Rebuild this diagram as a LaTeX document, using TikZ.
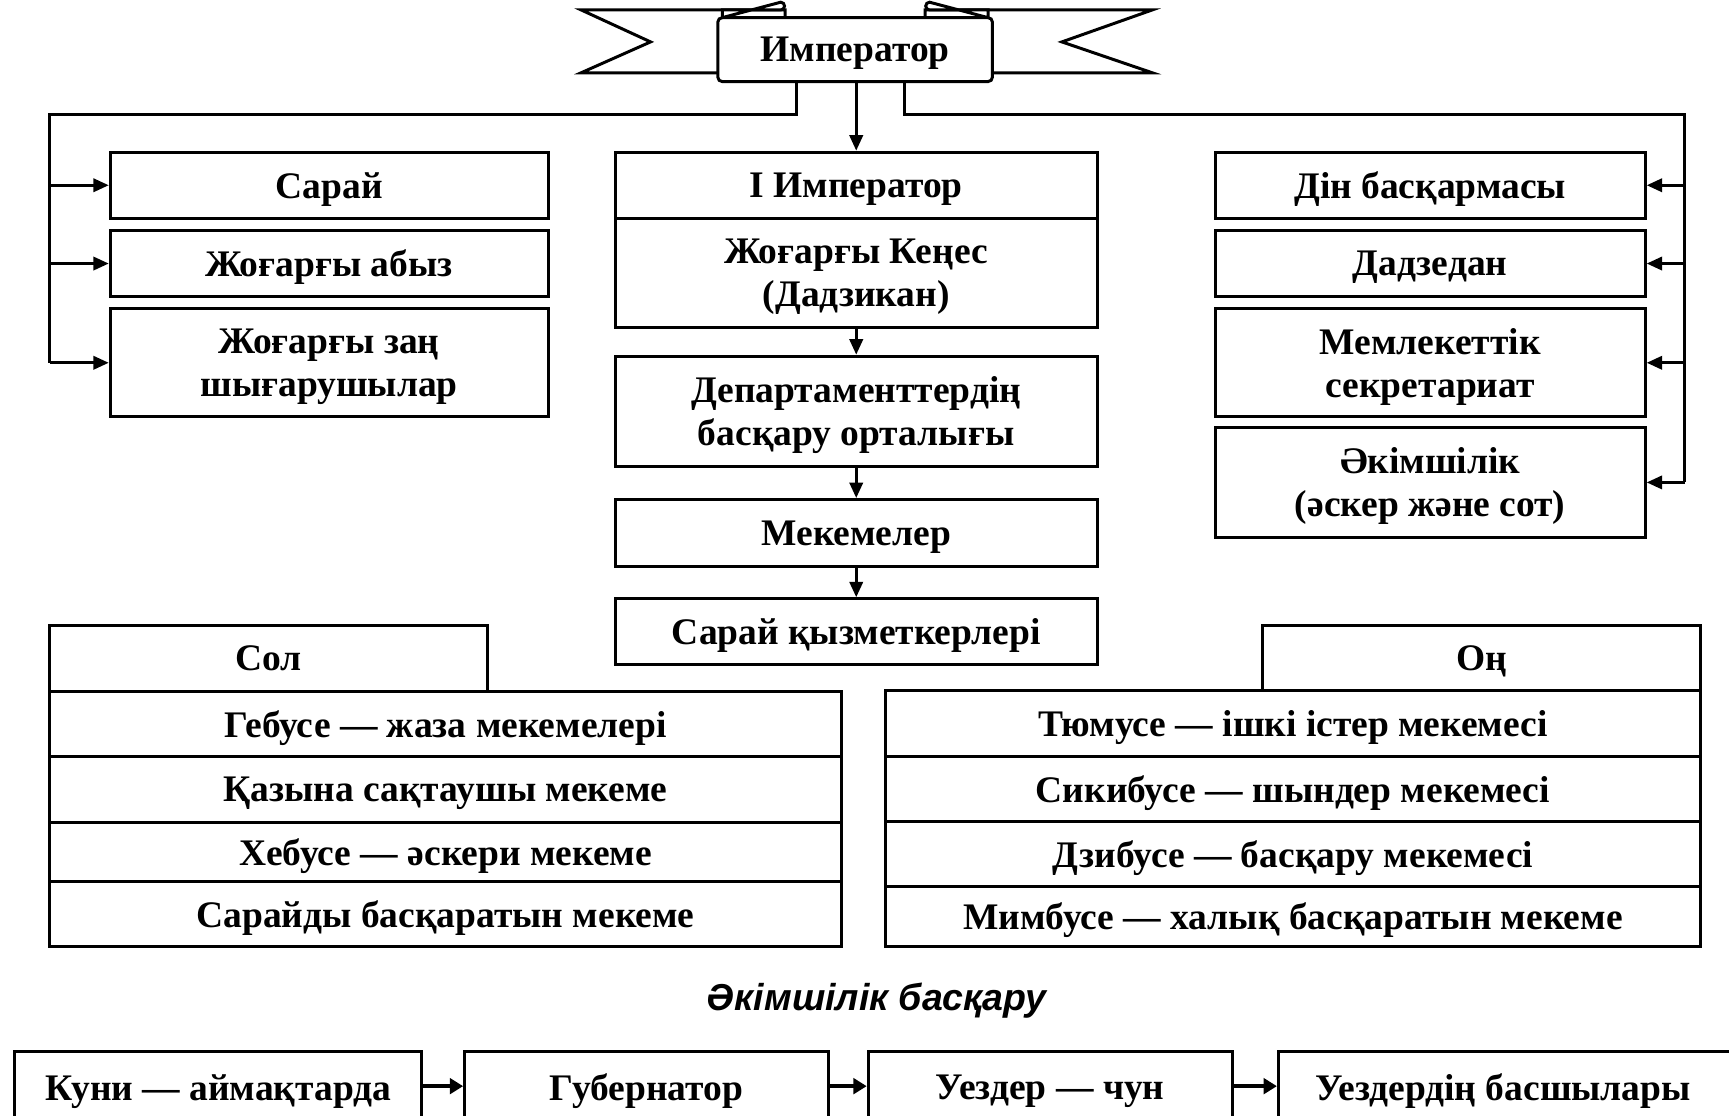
\documentclass[tikz,border=0pt]{standalone}
\usepackage{fontspec}
\setmainfont{Liberation Serif}
\setsansfont{Liberation Sans}
\usetikzlibrary{arrows.meta,calc}
\begin{document}
\begin{tikzpicture}[x=1pt,y=-1pt,
  lw/.style={line width=2.7pt},
  box/.style={draw, lw, fill=white, inner sep=0pt, align=center, text depth=0pt,
    font=\fontsize{34}{39}\selectfont\bfseries},
  wh/.style 2 args={minimum width=#1pt, minimum height=#2pt},
  arr/.style={lw, -{Triangle[length=14pt,width=12pt]}},
  barr/.style={line width=4pt, -{Triangle[length=12pt,width=14pt]}},
  lbl/.style={font=\fontsize{34}{39}\selectfont\bfseries, text depth=0pt},
  conn/.style={lw}]
\useasboundingbox (0,0) rectangle (1568,1012);
\clip (0,0) rectangle (1568,1012);
\fill[white] (0,0) rectangle (1568,1012);

% banner tails
\draw[lw, fill=white, line join=miter] (527,9) -- (712,9) -- (712,66) -- (527,66) -- (590,38) -- cycle;
\draw[lw, fill=white, line join=miter] (1045,9) -- (839,9) -- (839,66) -- (1045,66) -- (963,38) -- cycle;
\node[box, rounded corners=4pt, wh={249}{58}] (imp) at (775.5,45) {Император};
\draw[lw, fill=white] (655,16) -- (655,9) -- (708,9) arc[start angle=90, end angle=-90, radius=3.5] -- (655,16);
\draw[lw, fill=white] (896,16) -- (896,9) -- (843,9) arc[start angle=90, end angle=270, radius=3.5] -- (896,16);

% left column
\node[box, wh={397}{60}] (sarai) at (298.5,168) {Сарай};
\node[box, wh={397}{60}] (abyz) at (298.5,239) {Жоғарғы абыз};
\node[box, wh={397}{98}] (zan) at (298.5,329) {Жоғарғы заң\\шығарушылар};

% centre column
\node[box, wh={437}{60}] (imp1) at (776.5,168) {I Император};
\node[box, wh={437}{99}] (kenes) at (776.5,247.5) {Жоғарғы Кеңес\\(Дадзикан)};
\node[box, wh={437}{100}] (dep) at (776.5,373) {Департаменттердің\\басқару орталығы};
\node[box, wh={437}{61}] (mek) at (776.5,483.5) {Мекемелер};
\node[box, wh={437}{60}] (qyz) at (776.5,573) {Сарай қызметкерлері};

% right column
\node[box, wh={390}{60}] (din) at (1297,168) {Дін басқармасы};
\node[box, wh={390}{60}] (dadz) at (1297,239) {Дадзедан};
\node[box, wh={390}{98}] (mem) at (1297,329) {Мемлекеттік\\секретариат};
\node[box, wh={390}{99}] (akim) at (1297,437.5) {Әкімшілік\\(әскер және сот)};

% buses
\coordinate (Lx) at (722,0);
\coordinate (Rx) at (820,0);
\coordinate (LL) at (45,104);
\coordinate (RR) at (1528,104);
\draw[conn] (imp.south -| Lx) -- (Lx |- LL) -- (LL) -- (LL |- zan.west);
\draw[conn] (imp.south -| Rx) -- (Rx |- RR) -- (RR) -- (RR |- akim.east);
\draw[arr] (LL |- sarai.west) -- (sarai.west);
\draw[arr] (LL |- abyz.west) -- (abyz.west);
\draw[arr] (LL |- zan.west) -- (zan.west);
\draw[arr] (RR |- din.east) -- (din.east);
\draw[arr] (RR |- dadz.east) -- (dadz.east);
\draw[arr] (RR |- mem.east) -- (mem.east);
\draw[arr] (RR |- akim.east) -- (akim.east);

\draw[arr] (imp.south -| imp1.north) -- (imp1.north);
\draw[arr] (kenes.south) -- (dep.north);
\draw[arr] (dep.south) -- (mek.north);
\draw[arr] (mek.south) -- (qyz.north);

% left table
\node[box, wh={397}{60}] (sol) at (243.5,597) {Сол};
\node[box, wh={718}{59}] (l1) at (404,656.5) {Гебусе — жаза мекемелері};
\node[box, wh={718}{60}] (l2) at (404,716) {Қазына сақтаушы мекеме};
\node[box, wh={718}{53}] (l3) at (404,772.5) {Хебусе — әскери мекеме};
\node[box, wh={718}{59}] (l4) at (404,828.5) {Сарайды басқаратын мекеме};

% right table
\node[box, wh={397}{59}] (on) at (1343.5,596.5) {Оң};
\node[box, wh={739}{60}] (r1) at (1172.5,656) {Тюмусе — ішкі істер мекемесі};
\node[box, wh={739}{59}] (r2) at (1172.5,715.5) {Сикибусе — шындер мекемесі};
\node[box, wh={739}{59}] (r3) at (1172.5,774.5) {Дзибусе — басқару мекемесі};
\node[box, wh={739}{54}] (r4) at (1172.5,831) {Мимбусе — халық басқаратын мекеме};

% title
\node[font=\fontsize{34}{38}\selectfont\sffamily\bfseries\itshape] (title) at (795,907) {Әкімшілік басқару};

% bottom row
\node[box, anchor=north west, wh={369}{110}] (b1) at (12,952) {};
\node[box, anchor=north west, wh={330}{110}] (b2) at (420,952) {};
\node[box, anchor=north west, wh={330}{110}] (b3) at (786,952) {};
\node[box, anchor=north west, wh={420}{110}] (b4) at (1158,952) {};
\node[lbl] (t1) at ($(b1.north)+(0,34)$) {Куни — аймақтарда};
\node[lbl] (t2) at ($(b2.north)+(0,34)$) {Губернатор};
\node[lbl] (t3) at ($(b3.north)+(0,34)$) {Уездер — чун};
\node[lbl] (t4) at ($(b4.north west)+(205,34)$) {Уездердің басшылары};
\draw[barr] ($(b1.north east)+(0,33)$) -- ($(b2.north west)+(0,33)$);
\draw[barr] ($(b2.north east)+(0,33)$) -- ($(b3.north west)+(0,33)$);
\draw[barr] ($(b3.north east)+(0,33)$) -- ($(b4.north west)+(0,33)$);
\end{tikzpicture}
\end{document}
